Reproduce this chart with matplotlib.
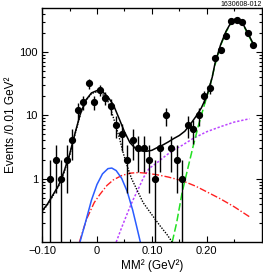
import matplotlib
matplotlib.use("Agg")
import matplotlib.pyplot as plt
import numpy as np

plt.rcParams['font.family'] = ['Liberation Sans', 'DejaVu Sans']

# data points (bin centres, events per 0.01 GeV^2)
mm2 = [-0.085, -0.075, -0.065, -0.055, -0.045, -0.035, -0.025, -0.015, -0.005,
       0.005, 0.015, 0.025, 0.035, 0.045, 0.055, 0.065, 0.075, 0.085, 0.095,
       0.105, 0.115, 0.125, 0.135, 0.145, 0.155, 0.165, 0.175, 0.185, 0.195,
       0.205, 0.215, 0.225, 0.235, 0.245, 0.255, 0.265, 0.275, 0.285]
events = [1, 2, 1, 2, 4, 12, 16, 32, 16,
          25, 19, 14, 7, 5, 2, 4, 3, 3, 2,
          1, 3, 10, 3, 2, 1, 7, 6, 10, 20,
          27, 80, 105, 180, 310, 320, 300, 200, 130]

# fit curves
total_x = [-0.100, -0.090, -0.080, -0.070, -0.060, -0.050, -0.040, -0.030, -0.020,
           -0.010, 0.000, 0.005, 0.010, 0.020, 0.030, 0.040, 0.050, 0.060, 0.070,
           0.080, 0.090, 0.100, 0.110, 0.120, 0.130, 0.140, 0.150, 0.160, 0.170,
           0.180, 0.190, 0.200, 0.210, 0.215, 0.225, 0.235, 0.245, 0.252, 0.258,
           0.265, 0.275, 0.285]
total_y = [0.31, 0.40, 0.56, 0.78, 1.3, 2.4, 5.2, 10.8, 17.5,
           22.5, 24.5, 24.5, 23.5, 19.5, 14.5, 9.0, 5.5, 3.7, 3.0,
           2.75, 2.7, 2.8, 3.1, 3.4, 3.8, 4.3, 4.8, 5.6, 7.2,
           9.5, 13, 20, 40, 66, 128, 210, 300, 330, 322,
           285, 195, 132]

sig_x = [-0.100, -0.090, -0.080, -0.070, -0.060, -0.050, -0.040, -0.030, -0.020,
         -0.010, 0.000, 0.010, 0.020, 0.027, 0.033, 0.042, 0.048, 0.057, 0.063,
         0.070, 0.084, 0.100, 0.115, 0.128, 0.137]
sig_y = [0.30, 0.39, 0.54, 0.76, 1.25, 2.3, 5.0, 10.5, 17.0,
         22.0, 23.5, 21.5, 16.5, 11.0, 7.5, 4.0, 2.5, 1.4, 1.0,
         0.75, 0.42, 0.27, 0.18, 0.13, 0.1]

blue_x = [-0.031, -0.020, -0.010, 0.000, 0.010, 0.020, 0.027, 0.035, 0.045,
          0.055, 0.065, 0.072, 0.079]
blue_y = [0.1, 0.22, 0.46, 0.81, 1.19, 1.44, 1.47, 1.34, 1.01,
          0.63, 0.32, 0.18, 0.1]

red_x = [-0.032, -0.019, -0.005, 0.005, 0.018, 0.030, 0.045, 0.060, 0.075,
         0.090, 0.110, 0.130, 0.155, 0.180, 0.200, 0.225, 0.250, 0.278]
red_y = [0.1, 0.23, 0.42, 0.56, 0.78, 0.96, 1.12, 1.22, 1.25,
         1.22, 1.15, 1.06, 0.93, 0.76, 0.62, 0.48, 0.36, 0.25]

mag_x = [0.035, 0.045, 0.055, 0.065, 0.075, 0.085, 0.095, 0.110, 0.125,
         0.140, 0.155, 0.175, 0.200, 0.225, 0.250, 0.278]
mag_y = [0.1, 0.17, 0.28, 0.45, 0.68, 1.05, 1.45, 1.8, 2.3,
         2.85, 3.35, 4.3, 5.5, 6.6, 7.8, 8.8]

green_x = [0.137, 0.145, 0.155, 0.165, 0.175, 0.185, 0.195, 0.205, 0.215,
           0.225, 0.235, 0.245, 0.252, 0.258, 0.265, 0.275, 0.285]
green_y = [0.1, 0.2, 0.6, 1.4, 3.2, 7.0, 14, 27, 62,
           125, 205, 295, 325, 318, 280, 190, 128]

fig = plt.figure(figsize=(2.63, 2.77), dpi=100)
ax = fig.add_axes([0.160, 0.126, 0.835, 0.845])

ax.plot(mag_x, mag_y, color='#bb44ff', lw=1.1, ls=(0, (1.5, 1.2)))
ax.plot(red_x, red_y, color='#ff2020', lw=1.0, ls=(0, (5, 1.5, 1, 1.5)))
ax.plot(blue_x, blue_y, color='#2a5cff', lw=1.1)
ax.plot(green_x, green_y, color='#22e022', lw=1.1, ls=(0, (5, 2)))
ax.plot(sig_x, sig_y, color='black', lw=1.0, ls=(0, (1, 1)))
ax.plot(total_x, total_y, color='black', lw=1.1)

ev = np.array(events, dtype=float)
err = np.sqrt(ev)
lo = np.minimum(err, ev - 1e-4)
ax.errorbar(mm2, ev, yerr=[lo, err], fmt='o', color='black', ms=4.2,
            elinewidth=1.0, capsize=0)

ax.set_yscale('log')
ax.set_xlim(-0.10, 0.30)
ax.set_ylim(0.1, 490)
ax.set_xticks([-0.10, 0.0, 0.10, 0.20])
ax.set_xticklabels(['\u22120.10', '0', '0.10', '0.20'])
ax.set_xticks([-0.05, 0.05, 0.15, 0.25], minor=True)
ax.set_yticks([1, 10, 100])
ax.set_yticklabels(['1', '10', '100'])
ax.tick_params(which='both', direction='in', top=True, right=True, labelsize=8, width=0.8)
ax.tick_params(which='major', length=4, pad=3)
ax.tick_params(which='minor', length=2.2)
for s in ax.spines.values():
    s.set_linewidth(1.0)

ax.set_xlabel('MM\u00b2 (GeV\u00b2)', fontsize=8.5, labelpad=2)
ax.set_ylabel('Events /0.01 GeV\u00b2', fontsize=8.5, labelpad=2)
fig.text(0.995, 0.995, '1630608-012', ha='right', va='top', fontsize=5)

fig.savefig('out.png', dpi=100)
